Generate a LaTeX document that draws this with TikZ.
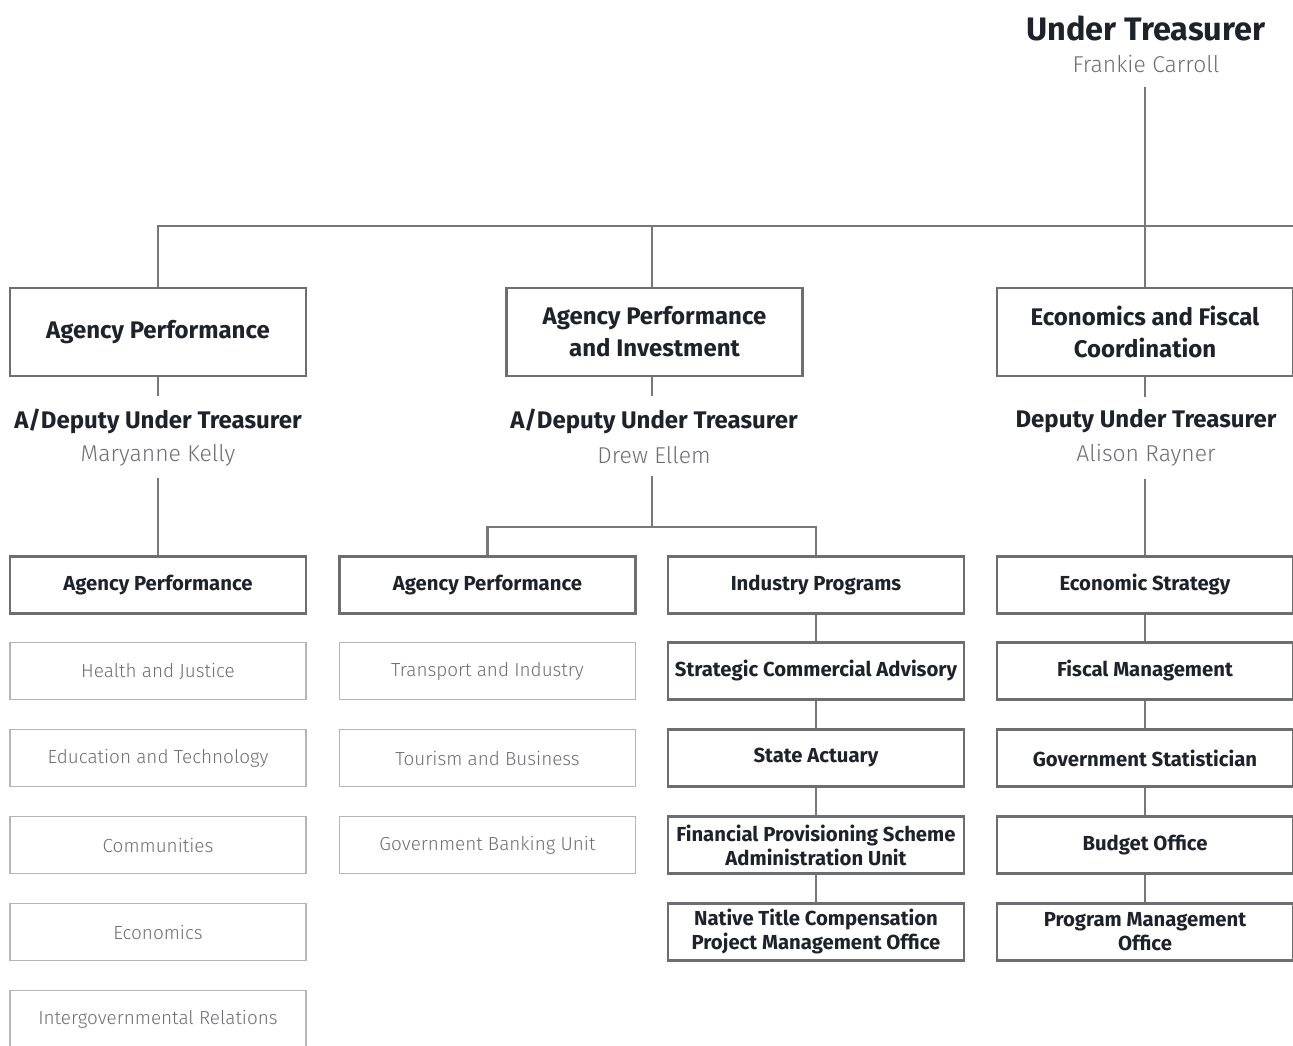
\documentclass[tikz,border=0pt]{standalone}
\usepackage{fontspec}
\setmainfont{Fira Sans}
\newfontfamily\lightfont{Fira Sans Light}
\definecolor{ink}{HTML}{1D222B}
\definecolor{namegrey}{HTML}{6D6E71}
\definecolor{boxgrey}{HTML}{6D6E71}
\definecolor{palegrey}{HTML}{B4B5B7}
\definecolor{linegrey}{HTML}{77787B}
\begin{document}
\begin{tikzpicture}[x=1pt, y=-1pt,
  lvlone/.style={draw=boxgrey, line width=2.5pt, minimum width=296pt, minimum height=88pt, align=center, text=ink, font=\bfseries\fontsize{24}{32}\selectfont},
  unit/.style={draw=boxgrey, line width=2.5pt, minimum width=296pt, minimum height=57pt, align=center, text=ink, font=\bfseries\fontsize{20.3}{24}\selectfont},
  team/.style={draw=palegrey, line width=1.5pt, minimum width=296pt, minimum height=57pt, text=namegrey, font=\lightfont\fontsize{18.9}{24}\selectfont},
  head/.style={text=ink, font=\bfseries\fontsize{24}{28}\selectfont},
  who/.style={text=namegrey, font=\lightfont\fontsize{22.9}{27}\selectfont},
  link/.style={draw=linegrey, line width=2.5pt}]
\useasboundingbox (0,0) rectangle (1293,1045);
\clip (0,0) rectangle (1293,1045);
\node[head, font=\bfseries\fontsize{32.5}{38}\selectfont] (ut) at (1146,28) {Under Treasurer};
\node[who] (fc) at (1146,64) {Frankie Carroll};
\node[lvlone] (b1) at (158,332) {Agency Performance};
\node[lvlone] (b2) at (654.5,332) {Agency Performance\\and Investment};
\node[lvlone] (b3) at (1145,332) {Economics and Fiscal\\Coordination};
\node[head] (t1) at (158,421) {A/Deputy Under Treasurer};
\node[head] (t2) at (654,421) {A/Deputy Under Treasurer};
\node[head] (t3) at (1146,421) {Deputy Under Treasurer};
\node[who] (n1) at (158,455) {Maryanne Kelly};
\node[who] (n2) at (654,455) {Drew Ellem};
\node[who] (n3) at (1146,455) {Alison Rayner};
\node[unit] (u1) at (158,585) {Agency Performance};
\node[team] (h1) at (158,671) {Health and Justice};
\node[team] (h2) at (158,758) {Education and Technology};
\node[team] (h3) at (158,845) {Communities};
\node[team] (h4) at (158,932) {Economics};
\node[team] (h5) at (158,1019) {Intergovernmental Relations};
\node[unit] (u2a) at (487.5,585) {Agency Performance};
\node[team] (k1) at (487.5,671) {Transport and Industry};
\node[team] (k2) at (487.5,758) {Tourism and Business};
\node[team] (k3) at (487.5,845) {Government Banking Unit};
\node[unit] (u2b) at (816,585) {Industry Programs};
\node[unit] (p1) at (816,671) {Strategic Commercial Advisory};
\node[unit] (p2) at (816,758) {State Actuary};
\node[unit] (p3) at (816,845) {Financial Provisioning Scheme\\Administration Unit};
\node[unit] (p4) at (816,932) {Native Title Compensation\\Project Management Office};
\node[unit] (e1) at (1145,585) {Economic Strategy};
\node[unit] (e2) at (1145,671) {Fiscal Management};
\node[unit] (e3) at (1145,758) {Government Statistician};
\node[unit] (e4) at (1145,845) {Budget Office};
\node[unit] (e5) at (1145,932) {Program Management\\Office};
\coordinate (bus) at (1293,226);
\coordinate (split) at (652,527);
\draw[link] ([yshift=-11pt]fc.south -| b3.north) -- (b3.north);
\draw[link] (b1.north) |- (bus);
\draw[link] (split |- b2.north) -- (split |- bus);
\draw[link] (b1.south) -- ([yshift=9pt]b1.south |- t1.north);
\draw[link] (split |- b2.south) -- ([yshift=9pt]split |- t2.north);
\draw[link] (b3.south) -- ([yshift=9pt]b3.south |- t3.north);
\draw[link] ([yshift=-9pt]n1.south -| u1.north) -- (u1.north);
\draw[link] ([yshift=-9pt]n3.south -| e1.north) -- (e1.north);
\draw[link] ([yshift=-9pt]n2.south -| split) -- (split);
\draw[link] (u2a.north) |- (split) -| (u2b.north);
\foreach \a/\b in {u2b/p1, p1/p2, p2/p3, p3/p4, e1/e2, e2/e3, e3/e4, e4/e5}
  \draw[link] (\a) -- (\b);
\end{tikzpicture}
\end{document}
